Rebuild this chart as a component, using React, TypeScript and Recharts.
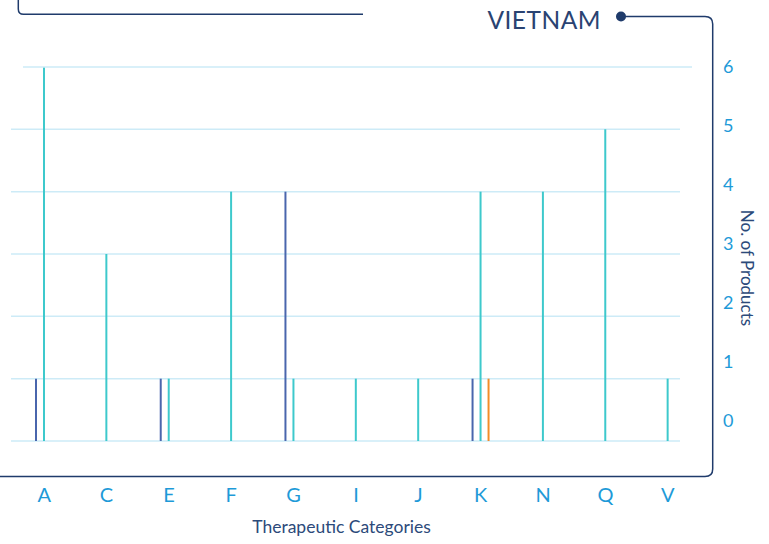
import { BarChart, Bar, XAxis, YAxis, CartesianGrid, ReferenceLine } from 'recharts'

const categories = ['A', 'C', 'E', 'F', 'G', 'I', 'J', 'K', 'N', 'Q', 'V']
const navySeries = [1, null, 1, null, 4, null, null, 1, null, null, null]
const tealSeries = [6, 3, 1, 4, 1, 1, 1, 4, 4, 5, 1]
const orangeSeries = [null, null, null, null, null, null, null, 1, null, null, null]
const yTicks = [0, 1, 2, 3, 4, 5, 6]

const data = categories.map((cat, i) => ({
  cat,
  navy: navySeries[i],
  teal: tealSeries[i],
  orange: orangeSeries[i],
}))

const NAVY = '#1f3b6b'
const TICK_BLUE = '#1e9ad8'
const GRID = '#cdebf7'
const FONT = 'Lato, "Open Sans", sans-serif'

export default function App() {
  return (
    <div style={{ position: 'absolute', left: 0, top: 0, width: 769, height: 544, background: '#fff' }}>
      <svg width={769} height={544} style={{ position: 'absolute', left: 0, top: 0 }}>
        <path d="M18.3 0 V9 Q18.3 14.3 23.5 14.3 H363" fill="none" stroke={NAVY} strokeWidth={1.5} />
        <path
          d="M621 16.5 H705 Q712.7 16.5 712.7 24 V469 Q712.7 476.5 705 476.5 H0"
          fill="none"
          stroke={NAVY}
          strokeWidth={1.5}
        />
        <circle cx={621} cy={16.5} r={5} fill={NAVY} />
        <text x={601} y={29} textAnchor="end" fontFamily={FONT} fontSize={24.5} fill="#2a4372" letterSpacing={0.5}>
          VIETNAM
        </text>
      </svg>
      <div style={{ position: 'absolute', left: 0, top: 0 }}>
        <BarChart
          width={769}
          height={544}
          data={data}
          margin={{ top: 67, right: 0, bottom: 0, left: 11 }}
          barSize={2}
          barGap={6}
        >
          <CartesianGrid
            yAxisId="bars"
            vertical={false}
            horizontalValues={[0, 1, 2, 3, 4, 5]}
            stroke={GRID}
            strokeWidth={1.5}
          />
          <ReferenceLine
            yAxisId="bars"
            y={6}
            shape={(p: any) => (
              <line x1={p.x1 + 12} y1={p.y1} x2={p.x2 + 12} y2={p.y2} stroke={GRID} strokeWidth={1.5} />
            )}
          />
          <XAxis
            dataKey="cat"
            interval={0}
            padding={{ left: 2, right: -19 }}
            axisLine={false}
            tickLine={false}
            tickSize={0}
            tickMargin={47}
            height={103}
            tick={{ fill: TICK_BLUE, fontSize: 20, fontFamily: FONT }}
            label={{
              content: ({ viewBox }: any) => (
                <text
                  x={viewBox.x + viewBox.width / 2 - 4}
                  y={viewBox.y + viewBox.height - 11}
                  textAnchor="middle"
                  fontFamily={FONT}
                  fontSize={17.5}
                  fill="#2c4a7a"
                >
                  Therapeutic Categories
                </text>
              ),
            }}
          />
          <YAxis yAxisId="bars" domain={[0, 6]} hide />
          <YAxis
            yAxisId="labels"
            orientation="right"
            domain={[-0.34, 6]}
            allowDataOverflow
            ticks={yTicks}
            width={89}
            axisLine={false}
            tickLine={false}
            tickSize={0}
            tickMargin={43}
            tick={{ fill: TICK_BLUE, fontSize: 18, fontFamily: FONT }}
            label={{
              content: ({ viewBox }: any) => {
                const cx = viewBox.x + 67
                const cy = 268
                return (
                  <text
                    x={cx}
                    y={cy}
                    transform={`rotate(90 ${cx} ${cy})`}
                    textAnchor="middle"
                    dominantBaseline="central"
                    fontFamily={FONT}
                    fontSize={17}
                    fill="#2c4a7a"
                  >
                    No. of Products
                  </text>
                )
              },
            }}
          />
          <Bar yAxisId="bars" dataKey="navy" fill="#4a66ad" isAnimationActive={false} />
          <Bar yAxisId="bars" dataKey="teal" fill="#3ec9cc" isAnimationActive={false} />
          <Bar yAxisId="bars" dataKey="orange" fill="#f28c28" isAnimationActive={false} />
        </BarChart>
      </div>
    </div>
  )
}
